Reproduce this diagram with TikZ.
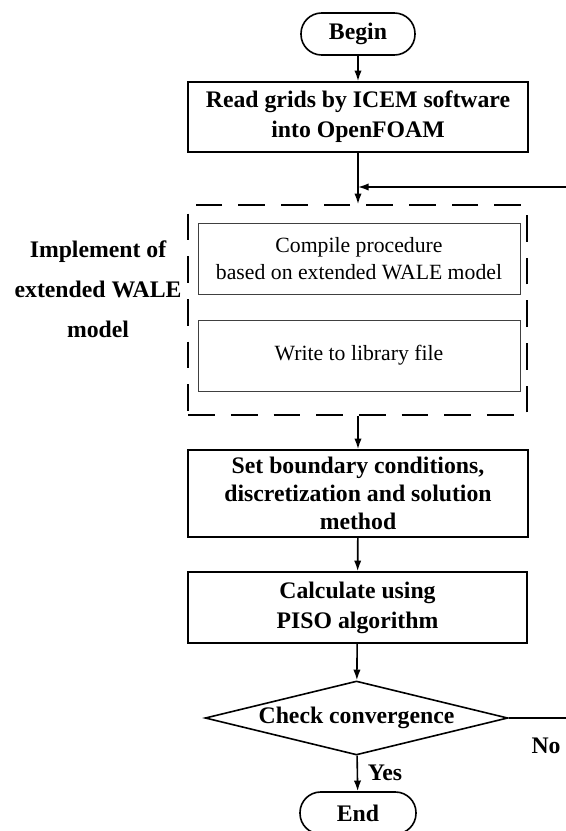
\documentclass[tikz,border=0pt]{standalone}
\usepackage{fontspec}
\setmainfont{Liberation Serif}
\usetikzlibrary{shapes.geometric,arrows.meta}
\begin{document}
\begin{tikzpicture}[x=0.75pt,y=-0.75pt,
  bx/.style={draw,line width=1.2pt,minimum width=255pt,minimum height=52.5pt,inner sep=0pt,align=center,font=\bfseries\fontsize{17.8}{22.5}\selectfont},
  inbx/.style={draw=black!75,line width=0.7pt,minimum width=241.5pt,minimum height=53.25pt,inner sep=0pt,align=center,font=\fontsize{16.3}{20}\selectfont},
  term/.style={draw,line width=1.2pt,rectangle,rounded corners=15.5pt,minimum width=85.5pt,minimum height=31.5pt,inner sep=0pt,font=\bfseries\fontsize{17.8}{20}\selectfont},
  dbox/.style={draw,line width=1.2pt,dash pattern=on 20pt off 12pt,minimum width=254pt,minimum height=157.5pt,inner sep=0pt},
  dia/.style={draw,line width=1.2pt,diamond,shape aspect=4.1,inner sep=0pt,minimum width=227pt,minimum height=55.5pt,font=\bfseries\fontsize{17.8}{20}\selectfont},
  lbl/.style={align=center,inner sep=0pt,font=\bfseries\fontsize{17.8}{30}\selectfont},
  tag/.style={inner sep=0pt,font=\bfseries\fontsize{17.8}{20}\selectfont},
  arr/.style={line width=1.2pt,-{Latex[length=8pt,width=5.5pt]}}]
\useasboundingbox (0,0) rectangle (566,831);
\node[term] (begin) at (358,34) {Begin};
\node[bx] (read) at (358,117) {Read grids by ICEM software\\into OpenFOAM};
\node[dbox] (grp) at (357.5,310) {};
\node[inbx] (comp) at (359,258.5) {Compile procedure\\based on extended WALE model};
\node[inbx] (lib) at (359,355.5) {Write to library file};
\node[lbl] (lab) at (98,289) {Implement of\\extended WALE\\model};
\node[bx,minimum height=65.25pt,font=\bfseries\fontsize{17.8}{21}\selectfont] (bc) at (358,493.5) {Set boundary conditions,\\discretization and solution\\method};
\node[bx,minimum height=53.25pt,minimum width=254pt] (piso) at (357.5,607.5) {Calculate using\\PISO algorithm};
\node[dia] (chk) at (356.5,718) {Check convergence};
\node[term,minimum width=87pt] (end) at (358,813) {End};
\node[tag] (yes) at (385,773) {Yes};
\node[tag] (no) at (546,746) {No};
\coordinate (merge) at (358,187);
\coordinate (rb) at (575,718);
\coordinate (rt) at (575,187);
\draw[arr] (begin) -- (read);
\draw[arr] (read) -- (read.south |- grp.north);
\draw[arr] (grp.south -| bc.north) -- (bc);
\draw[arr] (bc) -- (piso);
\draw[arr] (piso) -- (chk);
\draw[arr] (chk) -- (end);
\draw[arr] (chk.east) -- (rb) -- (rt) -- (merge);
\end{tikzpicture}
\end{document}
